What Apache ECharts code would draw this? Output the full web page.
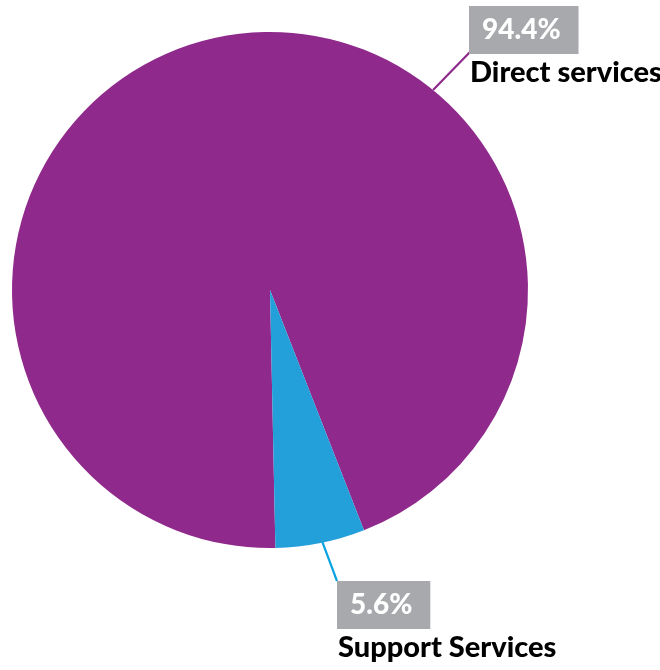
<!DOCTYPE html>
<html>
<head>
<meta charset="utf-8">
<script src="https://cdn.jsdelivr.net/npm/echarts@6/dist/echarts.min.js"></script>
<style>
html,body{margin:0;padding:0;background:#fff;}
#c{width:660px;height:670px;}
</style>
</head>
<body>
<div id="c"></div>
<script>
const categories = ['Direct services', 'Support Services'];
const values = [94.4, 5.6];
const colors = ['#8F2A8C', '#239FDA'];
const lineColors = ['#8F2A8C', '#0AA2E0'];

// layout constants
const CX = 270, CY = 290, R = 258;
function polar(clockDeg, r) {
  const a = clockDeg * Math.PI / 180;
  return [CX + r * Math.sin(a), CY - r * Math.cos(a)];
}
const labelSpots = [
  { x: 469, y: 16, anchor: polar(39.2, R), end: [470, 52] },
  { x: 337, y: 591, anchor: polar(168.9, R * 0.93), end: [337, 581] }
];

const chart = echarts.init(document.getElementById('c'), null, { renderer: 'canvas' });
chart.setOption({
  animation: false,
  series: [{
    type: 'pie',
    center: [CX, CY],
    radius: [0, R],
    startAngle: 271.2,
    clockwise: true,
    avoidLabelOverlap: false,
    emphasis: { disabled: true },
    data: categories.map((n, i) => ({
      name: n,
      value: values[i],
      itemStyle: { color: colors[i] },
      labelLine: { lineStyle: { color: lineColors[i], width: 2.2 } }
    })),
    label: {
      show: true,
      position: 'outside',
      fontFamily: 'Lato',
      formatter: '{pct|{c}%}\n{name|{b}}',
      rich: {
        pct: {
          backgroundColor: '#A7A9AC',
          color: '#ffffff',
          fontFamily: 'Lato',
          fontWeight: 900,
          fontSize: 28,
          lineHeight: 28,
          padding: [10, 18, 10, 13]
        },
        name: {
          color: '#000000',
          fontFamily: 'Lato',
          fontWeight: 900,
          fontSize: 29,
          lineHeight: 40,
          padding: [18, 0, 0, 1]
        }
      }
    },
    labelLine: { show: true, smooth: false },
    labelLayout: function (p) {
      const s = labelSpots[p.dataIndex];
      return {
        x: s.x,
        y: s.y,
        align: 'left',
        verticalAlign: 'top',
        labelLinePoints: [s.anchor, s.end, s.end]
      };
    }
  }]
});
</script>
</body>
</html>
